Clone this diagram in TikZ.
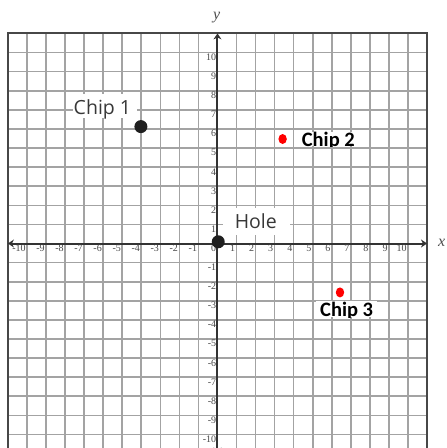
\documentclass[tikz,border=0pt]{standalone}
\usepackage{fontspec}
\setmainfont{Liberation Serif}
\newfontfamily\labelfont{Open Sans}
\newfontfamily\chipfont{Carlito}
\usetikzlibrary{arrows.meta,shapes.geometric}
\begin{document}
\begin{tikzpicture}[x=19.05pt,y=19.1pt,
  gridline/.style={draw=black!36, line width=1.6pt},
  frameline/.style={draw=black!72, line width=2pt},
  axisline/.style={draw=black!80, line width=2pt},
  axtip/.tip={Stealth[length=6pt,width=8pt]},
  ticklabel/.style={anchor=north east, inner sep=1.2pt, font=\fontsize{10}{10}\selectfont, text=black!72},
  axislabel/.style={inner sep=0pt, font=\fontsize{16}{16}\selectfont\itshape, text=black!70},
  bigdot/.style={circle, fill=black!88, minimum size=13pt, inner sep=0pt},
  reddot/.style={ellipse, fill=red, minimum width=8.4pt, minimum height=10pt, inner sep=0pt},
  whitebox/.style={fill=white},
  greylabel/.style={anchor=base, inner sep=0pt, font=\labelfont\fontsize{19.5}{20}\selectfont, text=black!78},
  chiplabel/.style={anchor=base, inner sep=0pt, font=\chipfont\bfseries\fontsize{20.5}{21}\selectfont, text=black}
]
\useasboundingbox (-11.417,-10.707) rectangle (12.047,12.749);
\clip (-11.417,-10.707) rectangle (12.047,12.749);
% grid
\foreach \i in {-10,...,10} {
  \draw[gridline] (\i,-11) -- (\i,11);
  \draw[gridline] (-11,\i) -- (11,\i);
}
\draw[frameline] (-11,-11) rectangle (11,11);
% axes
\draw[axisline, axtip-axtip] (-11,0) -- (11,0);
\draw[axisline, axtip-axtip] (0,-11) -- (0,11);
% tick labels
\foreach \i in {-10,...,10} {
  \node[ticklabel] (xl\i) at (\i,0) {\i};
}
\foreach \i in {-10,...,-1,1,2,...,10} {
  \node[ticklabel] (yl\i) at (0,\i) {\i};
}
\node[axislabel] (ylab) at (-0.04,11.81) {y};
\node[axislabel] (xlab) at (11.77,0.04) {x};
% white boxes behind labels
\fill[whitebox] (-7.60,6.57) rectangle (-4.23,7.83);
\fill[whitebox] (0.29,0.445) rectangle (3.81,1.86);
\fill[whitebox] (4.28,5.08) rectangle (7.32,5.85);
\fill[whitebox] (5.17,-3.85) rectangle (8.37,-3.01);
% labels
\node[greylabel] (chip1) at (-6.04,6.76) {Chip 1};
\node[greylabel] (hole) at (2.01,0.76) {Hole};
\begin{scope}
  \clip (4.28,5.08) rectangle (7.32,5.85);
  \node[chiplabel, anchor=base west] (chip2) at (4.42,5.10) {Chip 2};
\end{scope}
\begin{scope}
  \clip (5.17,-3.85) rectangle (8.37,-3.01);
  \node[chiplabel] (chip3) at (6.78,-3.80) {Chip 3};
\end{scope}
% dots
\node[bigdot] (chip1dot) at (-4.02,6.12) {};
\node[bigdot] (holedot) at (0.04,0.09) {};
\node[reddot] (chip2dot) at (3.42,5.47) {};
\node[reddot] (chip3dot) at (6.43,-2.56) {};
\end{tikzpicture}
\end{document}
